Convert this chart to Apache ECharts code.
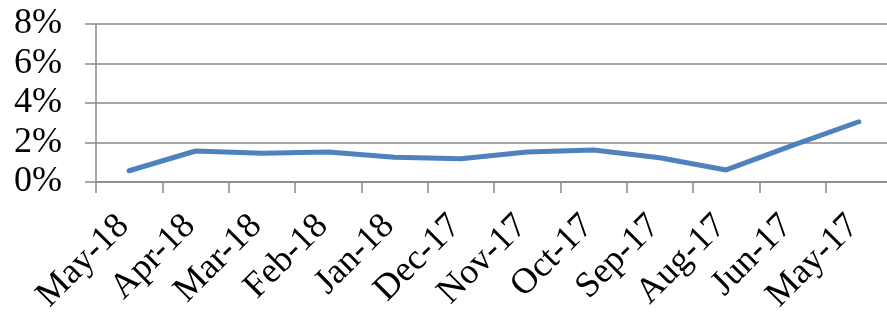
<!DOCTYPE html>
<html>
<head>
<meta charset="utf-8">
<script src="https://cdn.jsdelivr.net/npm/echarts@6/dist/echarts.min.js"></script>
<style>
  html, body { margin: 0; padding: 0; background: #fff; }
  #chart { width: 887px; height: 316px; }
</style>
</head>
<body>
<div id="chart"></div>
<script>
// months, newest first (as in the source sheet)
const months = ['May-18', 'Apr-18', 'Mar-18', 'Feb-18', 'Jan-18', 'Dec-17',
                'Nov-17', 'Oct-17', 'Sep-17', 'Aug-17', 'Jun-17', 'May-17'];
// rate in percent
const rates = [0.57, 1.57, 1.45, 1.52, 1.25, 1.18, 1.52, 1.62, 1.23, 0.61, 1.85, 3.05];
const yTicks = { min: 0, max: 8, step: 2 };

const fontFam = '"Liberation Serif", "DejaVu Serif", serif';
const gridGray = '#8a8a8a';

const chart = echarts.init(document.getElementById('chart'));

chart.setOption({
    animation: false,
    grid: { left: 96, right: -5, top: 24, bottom: 134, containLabel: false, outerBoundsMode: 'none' },
    xAxis: {
        type: 'category',
        data: months,
        boundaryGap: true,
        axisLine: { show: true, lineStyle: { color: gridGray, width: 1.5 } },
        axisTick: { show: true, length: 11, inside: false, lineStyle: { color: gridGray, width: 1.5 } },
        axisLabel: {
            rotate: 45,
            interval: 0,
            margin: 33,
            padding: [0, 8, 0, 0],
            color: '#000',
            fontFamily: fontFam,
            fontSize: 36
        },
        splitLine: { show: false }
    },
    yAxis: {
        type: 'value',
        min: yTicks.min,
        max: yTicks.max,
        interval: yTicks.step,
        axisLine: { show: true, lineStyle: { color: gridGray, width: 1.5 } },
        axisTick: { show: true, length: 11, lineStyle: { color: gridGray, width: 1.5 } },
        axisLabel: {
            formatter: '{value}%',
            margin: 34,
            color: '#000',
            fontFamily: fontFam,
            fontSize: 36
        },
        splitLine: { show: true, lineStyle: { color: gridGray, width: 1.5 } }
    },
    series: [{
        type: 'line',
        data: rates,
        symbol: 'none',
        lineStyle: { color: '#4f81bd', width: 5, cap: 'round', join: 'round' }
    }]
});
</script>
</body>
</html>
